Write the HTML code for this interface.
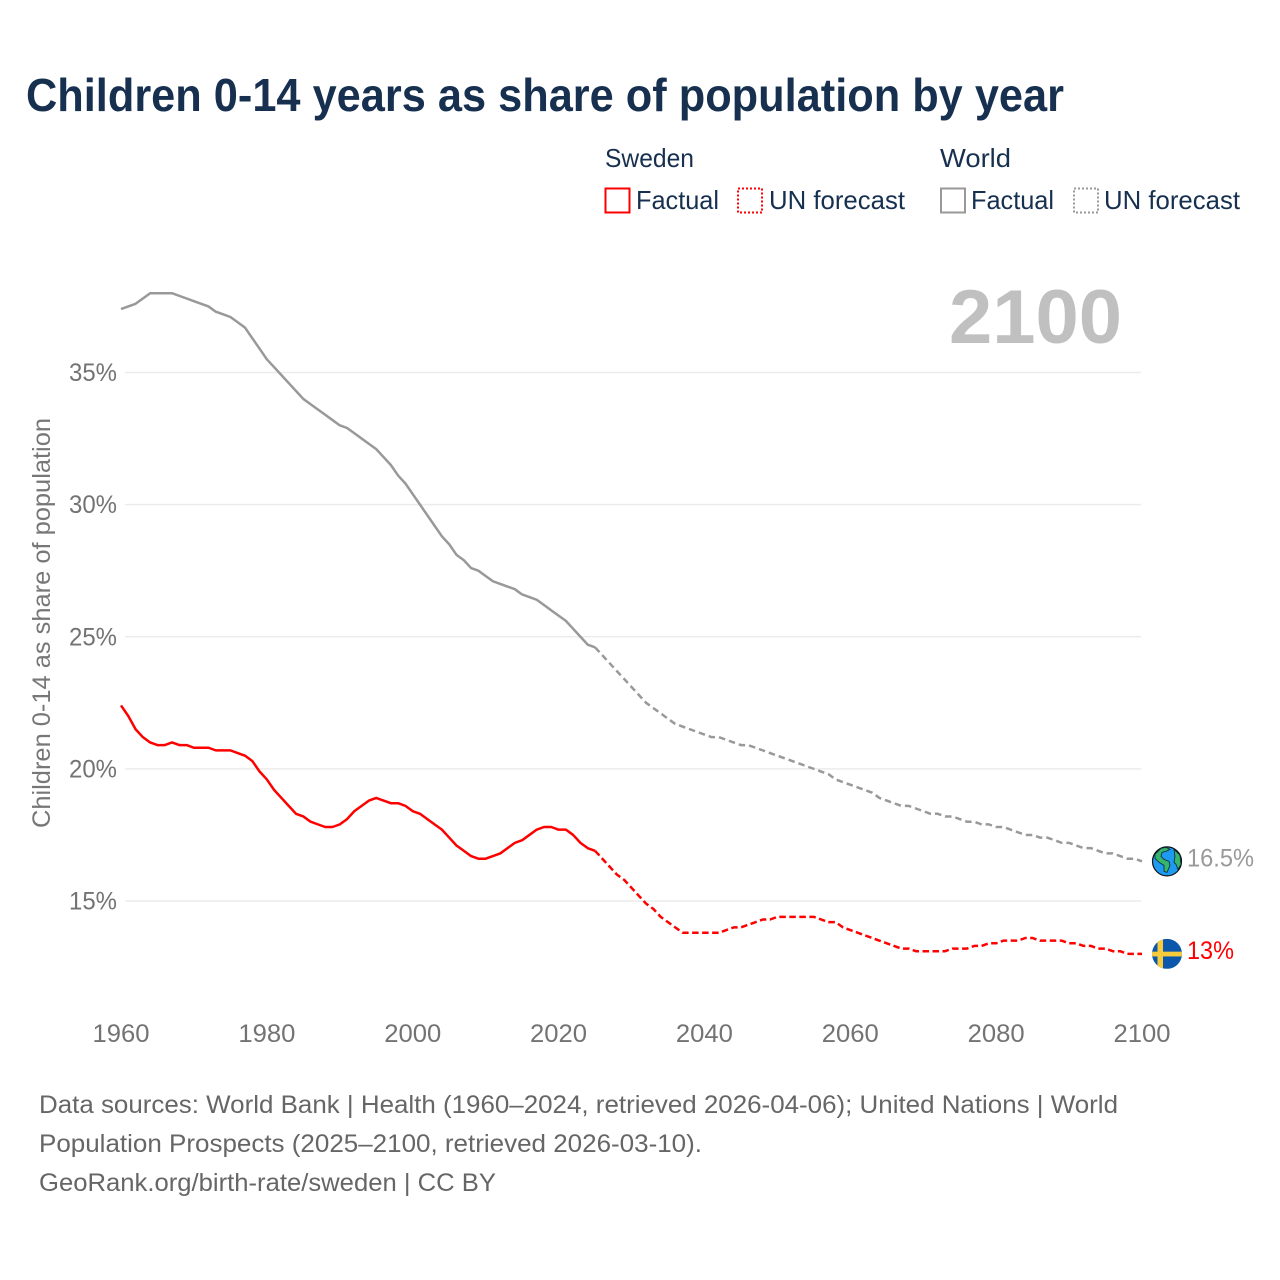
<!DOCTYPE html>
<html lang="en">
<head>
<meta charset="utf-8">
<title>Children 0-14 years as share of population by year</title>
<style>
html,body{margin:0;padding:0;background:#fff;width:1280px;height:1280px;overflow:hidden}
svg{display:block}
text{font-family:"Liberation Sans",sans-serif}
</style>
</head>
<body>
<svg id="chart" xmlns="http://www.w3.org/2000/svg" width="1280" height="1280" viewBox="0 0 1280 1280">
  <rect width="1280" height="1280" fill="#fff"/>
  <text x="26" y="111" font-size="46" font-weight="700" fill="#17304f" textLength="1038" lengthAdjust="spacingAndGlyphs">Children 0-14 years as share of population by year</text>

  <g font-size="26" fill="#17304f">
    <text x="605" y="167" textLength="89" lengthAdjust="spacingAndGlyphs">Sweden</text>
    <text x="940" y="167" textLength="71" lengthAdjust="spacingAndGlyphs">World</text>
    <rect x="605.5" y="188.5" width="24" height="24" fill="none" stroke="#ff0000" stroke-width="2"/>
    <text x="636" y="209" textLength="83" lengthAdjust="spacingAndGlyphs">Factual</text>
    <rect x="738" y="188.5" width="24" height="24" fill="none" stroke="#ff0000" stroke-width="2" stroke-dasharray="2 2"/>
    <text x="769" y="209" textLength="136" lengthAdjust="spacingAndGlyphs">UN forecast</text>
    <rect x="941" y="188.5" width="24" height="24" fill="none" stroke="#999999" stroke-width="2"/>
    <text x="971" y="209" textLength="83" lengthAdjust="spacingAndGlyphs">Factual</text>
    <rect x="1074" y="188.5" width="24" height="24" fill="none" stroke="#999999" stroke-width="2" stroke-dasharray="2 2"/>
    <text x="1104" y="209" textLength="136" lengthAdjust="spacingAndGlyphs">UN forecast</text>
  </g>

  <text x="949" y="343" font-size="76" font-weight="700" fill="#c0c0c0" textLength="173" lengthAdjust="spacingAndGlyphs">2100</text>
  <text transform="translate(50,828) rotate(-90)" font-size="25" fill="#777777" textLength="410" lengthAdjust="spacingAndGlyphs">Children 0-14 as share of population</text>

  <g id="grid"></g>
  <g id="yticks"></g>
  <g id="xticks"></g>
  <g id="series"></g>

  <g id="world-end">
    <circle cx="0" cy="0" r="14.5" fill="#1e9bf0" stroke="#111" stroke-width="1.2"/>
    <path d="M-12 -7 L-6 -13 L-1 -14 L3 -12 L-1 -10 L-5 -9 L-6 -5 L-3 -2 L2 0 L3 4 L0 11 L-3 10 L-3 4 L-8 1 L-12 -3 Z" fill="#35b56e" stroke="#123" stroke-width="0.8"/>
    <path d="M7 -12 L13 -6 L14 3 L11 8 L9 3 L7 1 L8 -5 Z" fill="#35b56e" stroke="#123" stroke-width="0.8"/>
  </g>
  <g id="sweden-end">
    <clipPath id="flag-clip"><circle cx="0" cy="0" r="15"/></clipPath>
    <g clip-path="url(#flag-clip)">
      <rect x="-15" y="-15" width="30" height="30" fill="#0b57ab"/>
      <rect x="-9.5" y="-15" width="5.5" height="30" fill="#f7cb3b"/>
      <rect x="-15" y="-2.2" width="30" height="4.8" fill="#f7cb3b"/>
    </g>
  </g>
  <text id="world-value" x="1187" y="866" font-size="25" fill="#999999" textLength="67" lengthAdjust="spacingAndGlyphs">16.5%</text>
  <text id="sweden-value" x="1187" y="958" font-size="25" fill="#ff0000" textLength="47" lengthAdjust="spacingAndGlyphs">13%</text>

  <g font-size="25" fill="#666666">
    <text x="39" y="1113" textLength="1079" lengthAdjust="spacingAndGlyphs">Data sources: World Bank | Health (1960–2024, retrieved 2026-04-06); United Nations | World</text>
    <text x="39" y="1152" textLength="663" lengthAdjust="spacingAndGlyphs">Population Prospects (2025–2100, retrieved 2026-03-10).</text>
    <text x="39" y="1191" textLength="457" lengthAdjust="spacingAndGlyphs">GeoRank.org/birth-rate/sweden | CC BY</text>
  </g>
</svg>
<script>
const yTickValues = [15, 20, 25, 30, 35];
const xTickYears = [1960, 1980, 2000, 2020, 2040, 2060, 2080, 2100];
const factualStartYear = 1960;
const forecastStartYear = 2025;
const worldFactual = [37.4,37.5,37.6,37.8,38.0,38.0,38.0,38.0,37.9,37.8,37.7,37.6,37.5,37.3,37.2,37.1,36.9,36.7,36.3,35.9,35.5,35.2,34.9,34.6,34.3,34.0,33.8,33.6,33.4,33.2,33.0,32.9,32.7,32.5,32.3,32.1,31.8,31.5,31.1,30.8,30.4,30.0,29.6,29.2,28.8,28.5,28.1,27.9,27.6,27.5,27.3,27.1,27.0,26.9,26.8,26.6,26.5,26.4,26.2,26.0,25.8,25.6,25.3,25.0,24.7,24.6];
const worldForecast = [24.6,24.3,24.0,23.7,23.4,23.1,22.8,22.5,22.3,22.1,21.9,21.7,21.6,21.5,21.4,21.3,21.2,21.2,21.1,21.0,20.9,20.9,20.8,20.7,20.6,20.5,20.4,20.3,20.2,20.1,20.0,19.9,19.8,19.6,19.5,19.4,19.3,19.2,19.1,18.9,18.8,18.7,18.6,18.6,18.5,18.4,18.3,18.3,18.2,18.2,18.1,18.0,18.0,17.9,17.9,17.8,17.8,17.7,17.6,17.5,17.5,17.4,17.4,17.3,17.2,17.2,17.1,17.0,17.0,16.9,16.8,16.8,16.7,16.6,16.6,16.5];
const swedenFactual = [22.4,22.0,21.5,21.2,21.0,20.9,20.9,21.0,20.9,20.9,20.8,20.8,20.8,20.7,20.7,20.7,20.6,20.5,20.3,19.9,19.6,19.2,18.9,18.6,18.3,18.2,18.0,17.9,17.8,17.8,17.9,18.1,18.4,18.6,18.8,18.9,18.8,18.7,18.7,18.6,18.4,18.3,18.1,17.9,17.7,17.4,17.1,16.9,16.7,16.6,16.6,16.7,16.8,17.0,17.2,17.3,17.5,17.7,17.8,17.8,17.7,17.7,17.5,17.2,17.0,16.9];
const swedenForecast = [16.9,16.6,16.3,16.0,15.8,15.5,15.2,14.9,14.7,14.4,14.2,14.0,13.8,13.8,13.8,13.8,13.8,13.8,13.9,14.0,14.0,14.1,14.2,14.3,14.3,14.4,14.4,14.4,14.4,14.4,14.4,14.3,14.2,14.2,14.0,13.9,13.8,13.7,13.6,13.5,13.4,13.3,13.2,13.2,13.1,13.1,13.1,13.1,13.1,13.2,13.2,13.2,13.3,13.3,13.4,13.4,13.5,13.5,13.5,13.6,13.6,13.5,13.5,13.5,13.5,13.4,13.4,13.3,13.3,13.2,13.2,13.1,13.1,13.0,13.0,13.0];

const NS = 'http://www.w3.org/2000/svg';
function xScale(year) { return 121 + (year - 1960) * (1142 - 121) / 140; }
function yScale(value) { return 372.5 + (35 - value) * (901 - 372.5) / 20; }

const grid = document.getElementById('grid');
const yticks = document.getElementById('yticks');
const xticks = document.getElementById('xticks');
const series = document.getElementById('series');

yTickValues.forEach(function (v) {
  const line = document.createElementNS(NS, 'line');
  
  
  line.setAttribute('x1', 125);
  line.setAttribute('x2', 1141);
  line.setAttribute('y1', yScale(v));
  line.setAttribute('y2', yScale(v));
  line.setAttribute('stroke', '#ececec');
  line.setAttribute('stroke-width', 1.5);
  grid.appendChild(line);

  const label = document.createElementNS(NS, 'text');
  
  
  label.setAttribute('x', 69);
  label.setAttribute('y', yScale(v) + 8.5);
  label.setAttribute('font-size', 25);
  label.setAttribute('fill', '#737373');
  label.setAttribute('textLength', 48);
  label.setAttribute('lengthAdjust', 'spacingAndGlyphs');
  label.textContent = v + '%';
  yticks.appendChild(label);
});

xTickYears.forEach(function (yr) {
  const label = document.createElementNS(NS, 'text');
  
  
  label.setAttribute('x', xScale(yr) - 28.5);
  label.setAttribute('y', 1042);
  label.setAttribute('font-size', 25);
  label.setAttribute('fill', '#737373');
  label.setAttribute('textLength', 57);
  label.setAttribute('lengthAdjust', 'spacingAndGlyphs');
  label.textContent = yr;
  xticks.appendChild(label);
});

function drawLine(values, startYear, color, dash, name) {
  const path = document.createElementNS(NS, 'path');
  
  
  const d = values.map(function (v, i) {
    return (i ? 'L' : 'M') + xScale(startYear + i).toFixed(2) + ' ' + yScale(v).toFixed(2);
  }).join(' ');
  path.setAttribute('d', d);
  path.setAttribute('fill', 'none');
  path.setAttribute('stroke', color);
  path.setAttribute('stroke-width', 2.5);
  path.setAttribute('stroke-linejoin', 'round');
  if (dash) path.setAttribute('stroke-dasharray', dash);
  series.appendChild(path);
}

drawLine(worldFactual, factualStartYear, '#999999', null, 'world-factual-line');
drawLine(worldForecast, forecastStartYear, '#999999', '6.5 4', 'world-forecast-line');
drawLine(swedenFactual, factualStartYear, '#ff0000', null, 'sweden-factual-line');
drawLine(swedenForecast, forecastStartYear, '#ff0000', '6.5 3.5', 'sweden-forecast-line');

function placeEnd(id, values, valueId) {
  const last = values[values.length - 1];
  const cy = yScale(last);
  document.getElementById(id).setAttribute('transform', 'translate(' + (xScale(2100) + 25) + ',' + cy + ')');
  document.getElementById(valueId).setAttribute('y', cy + 5);
}
placeEnd('world-end', worldForecast, 'world-value');
placeEnd('sweden-end', swedenForecast, 'sweden-value');
document.getElementById('world-value').textContent = worldForecast[worldForecast.length - 1] + '%';
document.getElementById('sweden-value').textContent = swedenForecast[swedenForecast.length - 1] + '%';
</script>
</body>
</html>
